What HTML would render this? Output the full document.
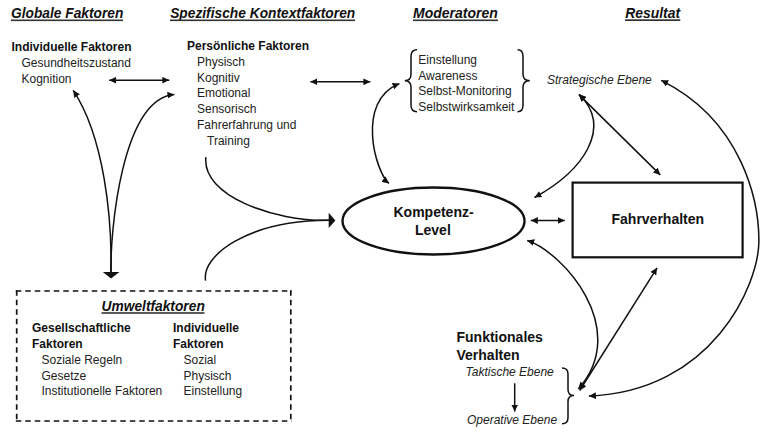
<!DOCTYPE html>
<html><head><meta charset="utf-8">
<style>
html,body{margin:0;padding:0;background:#fff;width:767px;height:438px;overflow:hidden}
svg{display:block}
text{font-family:"Liberation Sans",sans-serif;fill:#111}
.h{font-size:14px;font-weight:bold;font-style:italic}
.r{font-size:12px;fill:#222}
.b{font-size:12px;font-weight:bold}
.i{font-size:12px;font-style:italic;fill:#222}
.B{font-size:14px;font-weight:bold}
.ln{fill:none;stroke:#111;stroke-width:1.5}
</style></head>
<body>
<svg width="767" height="438" viewBox="0 0 767 438">
<defs>
<marker id="ah" viewBox="0 0 7 6.8" refX="7" refY="3.4" markerWidth="7" markerHeight="6.8" markerUnits="userSpaceOnUse" orient="auto-start-reverse">
<path d="M0 0 L7 3.4 L0 6.8 Z" fill="#111"/>
</marker>
</defs>

<!-- headers -->
<text class="h" x="11" y="17.5" textLength="112.4" lengthAdjust="spacingAndGlyphs">Globale Faktoren</text>
<rect x="11" y="19.5" width="112" height="1.6" fill="#333"/>
<text class="h" x="170.2" y="17.5" textLength="185" lengthAdjust="spacingAndGlyphs">Spezifische Kontextfaktoren</text>
<rect x="170" y="19.5" width="185" height="1.6" fill="#333"/>
<text class="h" x="413" y="17.5">Moderatoren</text>
<rect x="413" y="19.5" width="85" height="1.6" fill="#333"/>
<text class="h" x="625.3" y="17.5" textLength="54.8" lengthAdjust="spacingAndGlyphs">Resultat</text>
<rect x="625" y="19.3" width="55.3" height="1.7" fill="#333"/>

<!-- Globale -->
<text class="b" x="11.5" y="50.6">Individuelle Faktoren</text>
<text class="r" x="21.5" y="66.5">Gesundheitszustand</text>
<text class="r" x="21.5" y="82.5">Kognition</text>

<!-- Spezifische -->
<text class="b" x="187" y="50">Persönliche Faktoren</text>
<text class="r" x="197" y="66">Physisch</text>
<text class="r" x="197" y="81.7">Kognitiv</text>
<text class="r" x="197" y="97.4">Emotional</text>
<text class="r" x="197" y="113.1">Sensorisch</text>
<text class="r" x="197" y="128.8">Fahrerfahrung und</text>
<text class="r" x="207" y="144.5">Training</text>

<!-- Moderatoren -->
<text class="r" x="418.3" y="64.2">Einstellung</text>
<text class="r" x="418.3" y="79.7">Awareness</text>
<text class="r" x="418.3" y="95.2">Selbst-Monitoring</text>
<text class="r" x="418.3" y="110.7">Selbstwirksamkeit</text>

<text class="i" x="547" y="83.9">Strategische Ebene</text>

<!-- Kompetenz -->
<ellipse cx="433.5" cy="221" rx="91" ry="33.5" fill="none" stroke="#111" stroke-width="2.4"/>
<text class="B" x="393.5" y="217">Kompetenz-</text>
<text class="B" x="415" y="235">Level</text>

<!-- Fahrverhalten -->
<rect x="572.6" y="182.6" width="170" height="74.7" fill="none" stroke="#111" stroke-width="2.2"/>
<text class="B" x="611.5" y="224">Fahrverhalten</text>

<!-- Funktional -->
<text class="B" x="456.5" y="342">Funktionales</text>
<text class="B" x="456.5" y="360">Verhalten</text>
<text class="i" x="465.5" y="376">Taktische Ebene</text>
<text class="i" x="467" y="423.8">Operative Ebene</text>

<!-- Umwelt box -->
<g fill="none" stroke="#111" stroke-width="1.7" stroke-dasharray="5.5 4">
<path d="M15.8 291 H291.7"/>
<path d="M16.7 290.2 V421.9"/>
<path d="M290.8 290.2 V421.9"/>
<path d="M15.8 421 H291.7"/>
</g>
<text class="h" x="101.5" y="311" textLength="103.3" lengthAdjust="spacingAndGlyphs">Umweltfaktoren</text>
<rect x="101.5" y="312.2" width="103" height="1.6" fill="#333"/>
<text class="b" x="32" y="332.1">Gesellschaftliche</text>
<text class="b" x="32" y="347.6">Faktoren</text>
<text class="r" x="41.5" y="363.9">Soziale Regeln</text>
<text class="r" x="41.5" y="379.6">Gesetze</text>
<text class="r" x="41.5" y="395.4">Institutionelle Faktoren</text>
<text class="b" x="173" y="332.1">Individuelle</text>
<text class="b" x="173" y="347.6">Faktoren</text>
<text class="r" x="183.5" y="363.9">Sozial</text>
<text class="r" x="183.5" y="379.6">Physisch</text>
<text class="r" x="183.5" y="395.4">Einstellung</text>

<!-- braces -->
<path class="ln" d="M417 49.8 Q411 49.8 411 56.5 L411 74 Q411 80.7 404.8 80.7 Q411 80.7 411 87.2 L411 105 Q411 111.7 417 111.7" stroke-width="1.4"/>
<path class="ln" d="M517.5 49.8 Q523 49.8 523 56.5 L523 74 Q523 80.7 529.8 80.7 Q523 80.7 523 87.2 L523 105 Q523 111.7 517.5 111.7" stroke-width="1.4"/>
<path class="ln" d="M562 368 Q568 368 568 374 L568 389.5 Q568 395.5 574 395.5 Q568 395.5 568 401.5 L568 417.5 Q568 423.8 562 423.8" stroke-width="1.4"/>

<!-- arrows -->
<path class="ln" d="M109.2 80.2 L169.3 80.2" marker-start="url(#ah)" marker-end="url(#ah)"/>
<path class="ln" d="M310.4 81.8 L370.4 81.8" marker-start="url(#ah)" marker-end="url(#ah)"/>
<path class="ln" d="M530.8 220.5 L564.8 220.5" marker-start="url(#ah)" marker-end="url(#ah)"/>

<path class="ln" d="M111 272 C112 218.2 104.2 136.9 73.2 90.3" marker-end="url(#ah)"/>
<path class="ln" d="M111 272 C110 233.8 121.3 99 174.4 94.6" marker-end="url(#ah)"/>
<path d="M102.8 272 L119.5 272 L111 278.5 Z" fill="#111"/>

<path class="ln" d="M205.9 157.1 C201.5 195.7 273.7 221.6 329 220.3"/>
<path class="ln" d="M205.6 280.6 C201.1 256.6 246.5 220.3 329 220.3"/>
<path d="M328.7 212.7 L335.4 220.4 L328.7 228.1 Z" fill="#111"/>

<path class="ln" d="M399.5 83.6 C354.9 100.8 375.8 173.1 389 183.4" marker-start="url(#ah)" marker-end="url(#ah)"/>
<path class="ln" d="M579.1 94.3 C612.9 127.6 583.8 170.4 534.5 197.5" marker-start="url(#ah)" marker-end="url(#ah)"/>
<path class="ln" d="M578.9 94.6 L660.3 174.9" marker-start="url(#ah)" marker-end="url(#ah)"/>
<path class="ln" d="M527.2 240.5 C561.7 251.4 631.9 328.4 578.3 389" marker-start="url(#ah)" marker-end="url(#ah)"/>
<path class="ln" d="M657.1 267.8 L579.7 390.5" marker-start="url(#ah)" marker-end="url(#ah)"/>
<path class="ln" d="M661.2 80.3 C743.6 121.3 758.9 203.3 758.9 240.8 C758.9 285.2 711.6 391.6 588.9 396" marker-start="url(#ah)" marker-end="url(#ah)"/>
<path class="ln" d="M514.7 383.3 L514.7 411.6" marker-end="url(#ah)"/>
</svg>
</body></html>
